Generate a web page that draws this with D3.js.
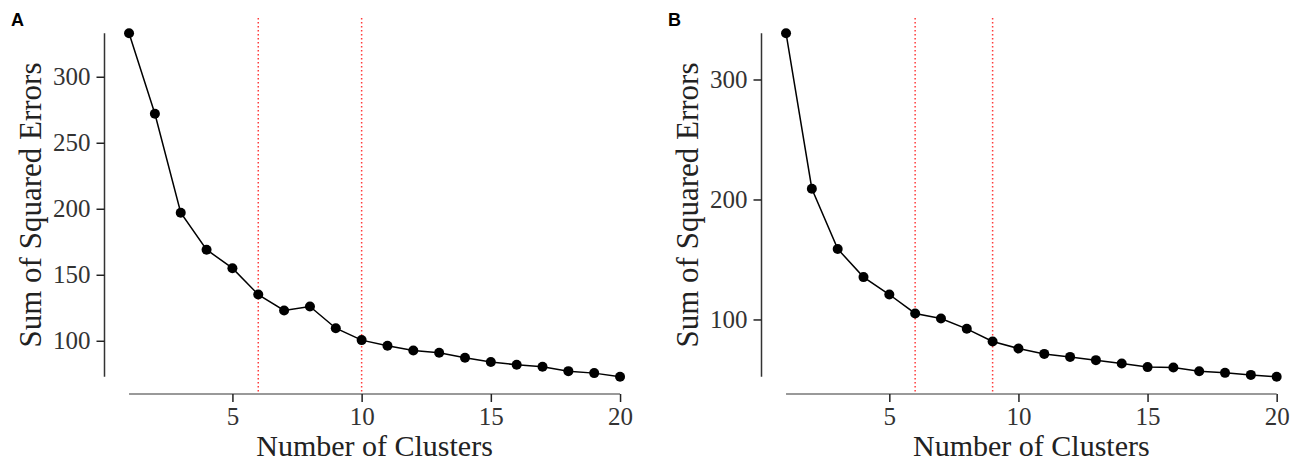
<!DOCTYPE html>
<html>
<head>
<meta charset="utf-8">
<script src="https://cdn.jsdelivr.net/npm/d3@7"></script>
<style>
  body { margin: 0; background: #fff; }
  .tick text { font-family: "Liberation Serif", "Times New Roman", serif; }
</style>
</head>
<body>
<script>
// number of clusters on x
var clusters = d3.range(1, 21);
// panel A values
var sseA = [333, 272, 197, 169, 155, 135, 123, 126, 109.5, 100.5, 96.2, 92.7, 90.9, 87.1, 83.9, 81.8, 80.3, 77.0, 75.5, 72.7];
var cutA = [6, 10];
var yTicksA = [100, 150, 200, 250, 300];
// panel B values
var sseB = [338.6, 209, 158.8, 135.3, 120.8, 105, 100.8, 92.2, 81.7, 75.8, 71.3, 68.8, 66.1, 63.3, 60.3, 60.0, 56.9, 55.5, 53.8, 52.2];
var cutB = [6, 9];
var yTicksB = [100, 200, 300];
var xTicks = [5, 10, 15, 20];

var width = 1302, height = 463;
var svg = d3.select("body").append("svg")
    .attr("width", width)
    .attr("height", height);

// draw one panel
function panel(label, vals, cuts, yTicks, box, labelX) {
  var xr = d3.extent(clusters), yr = d3.extent(vals);
  // 5% expansion like ggplot
  var xpad = (xr[1] - xr[0]) * 0.05, ypad = (yr[1] - yr[0]) * 0.05;
  var x = d3.scaleLinear().domain([xr[0] - xpad, xr[1] + xpad]).range([box.left, box.right]);
  var y = d3.scaleLinear().domain([yr[0] - ypad, yr[1] + ypad]).range([box.bottom, box.top]);

  var g = svg.append("g");

  // y axis (line spans the data range only)
  var ya = g.append("g")
    .attr("transform", "translate(" + box.left + ",0)")
    .call(d3.axisLeft(y).tickValues(yTicks).tickSize(8).tickPadding(6).tickSizeOuter(0));
  ya.select(".domain").attr("d", "M0," + y(yr[0]) + "V" + y(yr[1]))
    .attr("stroke", "#333").attr("stroke-width", 1.5);
  ya.selectAll(".tick line").attr("stroke", "#222").attr("stroke-width", 1.5);
  ya.selectAll(".tick text").attr("font-size", 25).attr("fill", "#333");

  // x axis
  var xa = g.append("g")
    .attr("transform", "translate(0," + box.bottom + ")")
    .call(d3.axisBottom(x).tickValues(xTicks).tickSize(8).tickPadding(5).tickSizeOuter(0));
  xa.select(".domain").attr("d", "M" + x(xr[0]) + ",0H" + x(xr[1]))
    .attr("stroke", "#999").attr("stroke-width", 2);
  xa.selectAll(".tick line").attr("stroke", "#222").attr("stroke-width", 1.5);
  xa.selectAll(".tick text").attr("font-size", 25).attr("fill", "#333");

  // red dotted cut-off lines
  g.selectAll(".cut").data(cuts).enter().append("line")
    .attr("x1", function(d){ return x(d); })
    .attr("x2", function(d){ return x(d); })
    .attr("y1", box.top + 2)
    .attr("y2", box.bottom)
    .attr("stroke", "#ff3b3b")
    .attr("stroke-width", 1.5)
    .attr("stroke-dasharray", "1.5,2.5");

  // line + points
  var line = d3.line()
    .x(function(d, i){ return x(clusters[i]); })
    .y(function(d){ return y(d); });
  g.append("path").datum(vals)
    .attr("d", line)
    .attr("fill", "none")
    .attr("stroke", "#000")
    .attr("stroke-width", 1.5);
  g.selectAll(".pt").data(vals).enter().append("circle")
    .attr("cx", function(d, i){ return x(clusters[i]); })
    .attr("cy", function(d){ return y(d); })
    .attr("r", 5)
    .attr("fill", "#000");

  // axis titles
  g.append("text")
    .attr("x", (box.left + box.right) / 2)
    .attr("y", 456)
    .attr("text-anchor", "middle")
    .attr("font-family", "Liberation Serif, serif")
    .attr("font-size", 30)
    .attr("fill", "#222")
    .text("Number of Clusters");
  g.append("text")
    .attr("transform", "translate(" + (box.left - 64) + "," + ((box.top + box.bottom) / 2) + ") rotate(-90)")
    .attr("text-anchor", "middle")
    .attr("font-family", "Liberation Serif, serif")
    .attr("font-size", 31)
    .attr("fill", "#222")
    .text("Sum of Squared Errors");

  // panel letter
  g.append("text")
    .attr("x", labelX)
    .attr("y", 26)
    .attr("font-family", "Liberation Sans, Arial, sans-serif")
    .attr("font-weight", "bold")
    .attr("font-size", 18)
    .attr("fill", "#000")
    .text(label);
}

panel("A", sseA, cutA, yTicksA, {left: 104.5, right: 644.6, top: 16, bottom: 394}, 11);
panel("B", sseB, cutB, yTicksB, {left: 761.5, right: 1301.2, top: 16, bottom: 394}, 668);
</script>
</body>
</html>
